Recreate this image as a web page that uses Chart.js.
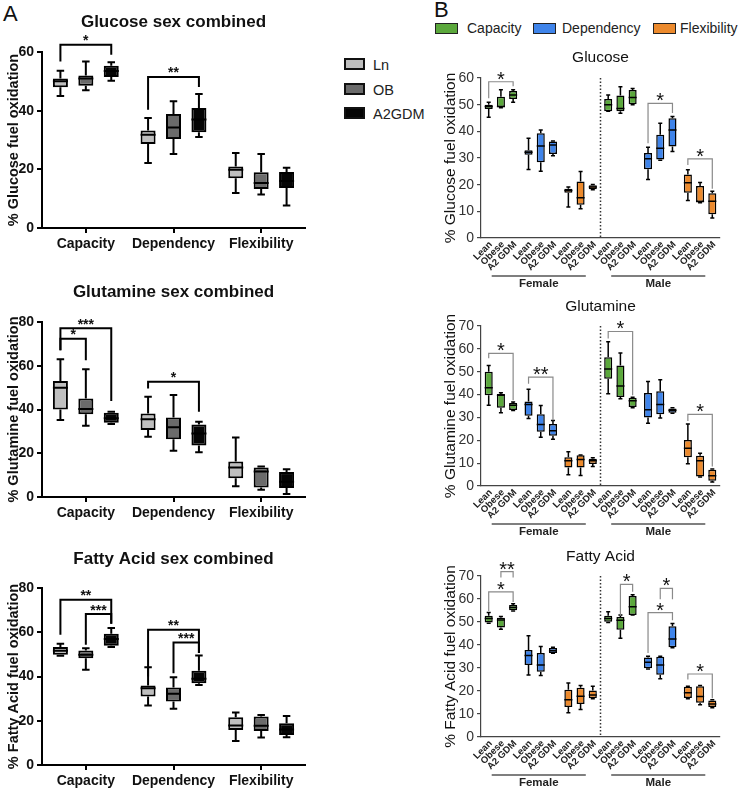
<!DOCTYPE html>
<html lang="en">
<head>
<meta charset="UTF-8">
<title>Fuel oxidation box plots</title>
<script src="https://cdn.jsdelivr.net/npm/chart.js"></script>
<style>
  body {
    margin: 0;
    width: 739px;
    height: 788px;
    overflow: hidden;
    position: relative;
    background: #fff;
    font-family: Arial, "Liberation Sans", sans-serif;
    color: #222;
  }
  canvas { position: absolute; }
  .letter { position: absolute; font-size: 22px; line-height: 26px; color: #111; }
  .sw { position: absolute; box-sizing: border-box; }
  .lab { position: absolute; white-space: nowrap; }
  .swA { width: 21px; height: 12px; border: 2px solid #111; }
  .labA { font-size: 14.5px; line-height: 18px; }
  .swB { width: 23px; height: 11px; border: 1.5px solid #222; }
  .labB { font-size: 14px; line-height: 18px; }
</style>
</head>
<body>
<div class="letter" style="left:3px; top:1px;">A</div>
<div class="letter" style="left:434px; top:-3px;">B</div>

<!-- legend A -->
<div class="sw swA" style="left:344px; top:58px; background:#bfbfbf;"></div>
<div class="sw swA" style="left:344px; top:83px; background:#6b6b6b;"></div>
<div class="sw swA" style="left:344px; top:107px; background:#050505;"></div>
<div class="lab labA" style="left:373px; top:56px;">Ln</div>
<div class="lab labA" style="left:373px; top:81px;">OB</div>
<div class="lab labA" style="left:373px; top:105px;">A2GDM</div>

<!-- legend B -->
<div class="sw swB" style="left:435px; top:23px; background:#5ba83c;"></div>
<div class="sw swB" style="left:533px; top:23px; background:#3f84ea;"></div>
<div class="sw swB" style="left:653px; top:23px; background:#ec8a2d;"></div>
<div class="lab labB" style="left:467px; top:19px;">Capacity</div>
<div class="lab labB" style="left:562px; top:19px;">Dependency</div>
<div class="lab labB" style="left:680px; top:19px;">Flexibility</div>

<canvas id="aGlu" width="310" height="255" style="left:0; top:0;"></canvas>
<canvas id="aGln" width="310" height="262" style="left:0; top:262px;"></canvas>
<canvas id="aFa" width="310" height="266" style="left:0; top:522px;"></canvas>
<canvas id="bGlu" width="302" height="255" style="left:420px; top:40px;"></canvas>
<canvas id="bGln" width="302" height="245" style="left:420px; top:295px;"></canvas>
<canvas id="bFa" width="302" height="243" style="left:420px; top:545px;"></canvas>

<script>
// every box is [min, q1, median, q3, max]
const aGroups = ['Capacity', 'Dependency', 'Flexibility'];
const aCohorts = ['Ln', 'OB', 'A2GDM'];

const aGluLn = [[45, 48, 50, 51, 53.6], [22.2, 28.6, 31.8, 33.2, 37.5], [11.9, 17, 19.9, 21, 25.6]];
const aGluOB = [[47, 48.5, 51, 52, 56.8], [25.2, 30.3, 34.3, 38.9, 43.2], [11.4, 13.3, 15.3, 19, 25.2]];
const aGluA2 = [[50.2, 51.5, 53.5, 55.3, 56.5], [31, 32.6, 37, 40.9, 45.7], [7.7, 13.6, 16, 19.1, 20.5]];

const aGlnLn = [[35.2, 40, 50, 53, 63], [27.6, 30.6, 35.5, 38.2, 45.8], [4.9, 8.6, 13.5, 16.2, 27.2]];
const aGlnOB = [[32.6, 37.8, 40.2, 45, 58.4], [21.2, 26.4, 31.9, 36.3, 46.6], [3.3, 4.4, 11.7, 13.5, 14]];
const aGlnA2 = [[33.4, 34, 36, 38.5, 39], [20.5, 23.5, 29, 33.2, 34.4], [1.4, 4.1, 7, 11.4, 12.7]];

const aFaLn = [[49.4, 49.8, 51.6, 53.3, 54.8], [26.9, 31, 34.7, 35.9, 44.2], [10.9, 15.8, 17.8, 21.6, 23.7]];
const aFaOB = [[43, 48.3, 49.8, 51.8, 52.8], [25.4, 28.7, 32.2, 35, 39.7], [12.4, 15.4, 17.7, 21.9, 22.6]];
const aFaA2 = [[53.3, 53.9, 57, 59.3, 61.9], [36.2, 37, 39, 42.6, 49.5], [12.5, 13.6, 16, 18.9, 22.2]];

// significance: [group, from cohort, to cohort, bracket, left leg end, right leg end, label]
const aGluSig = [[0, 0, 2, 62.5, 56.8, 59.1, '*'], [1, 0, 2, 51.5, 40.3, 48.1, '**']];
const aGlnSig = [[0, 0, 2, 77.2, 67.1, 43.9, '***'], [0, 0, 1, 72.4, 67.1, 62.5, '*'], [1, 0, 2, 52.7, 49.6, 39, '*']];
const aFaSig = [[0, 0, 2, 74.7, 58.9, 63.8, '**'], [0, 1, 2, 68.2, 54.3, 63.8, '***'],
                [1, 0, 2, 61.1, 40, 50.6, '**'], [1, 1, 2, 55.4, 41.5, 50.6, '***']];

const bGroups = ['Capacity', 'Dependency', 'Flexibility', 'Capacity', 'Dependency', 'Flexibility'];
const bCohorts = ['Lean', 'Obese', 'A2 GDM'];
const bSexes = ['Female', 'Male'];

const bGluLean = [[45.3, 48.4, 49.3, 50, 50.9], [25.7, 31.2, 32.2, 32.9, 37.4], [11.6, 17, 17.8, 18.5, 19.1],
                  [47.5, 47.5, 50, 52.1, 53.6], [21.9, 25.8, 29.7, 31.9, 34], [14.1, 17, 20.7, 23.8, 25.6]];
const bGluObese = [[48.8, 49, 49.3, 53, 55.6], [25, 28.4, 34.5, 39.3, 40.5], [11, 12.5, 15.1, 21.2, 24.9],
                   [46.8, 47.5, 48.6, 53.4, 56.7], [29.2, 29.4, 33.7, 38.7, 43], [13.2, 13.5, 13.7, 19.5, 20.8]];
const bGluA2 = [[50.9, 52.1, 53.6, 55.1, 55.6], [30.8, 31.5, 34.9, 36.2, 36.4], [18.1, 18.3, 19.1, 19.8, 20.1],
                [50, 50.2, 52.7, 55.5, 56.1], [32.4, 34.3, 40.5, 44.9, 45.6], [7.5, 8.9, 13.8, 16.8, 17.5]];

const bGlnLean = [[35.3, 39.7, 43, 50, 52.7], [29.5, 30.7, 35.7, 37, 42.3], [4.9, 8.1, 11, 12.6, 15],
                  [40.4, 46.9, 51.2, 56.3, 63.1], [27.4, 30, 33.4, 40.7, 45.7], [9.7, 12.6, 16.5, 20.1, 27.1]];
const bGlnObese = [[32.1, 34.2, 39.7, 40.2, 40.8], [21.3, 23.7, 26.9, 31.4, 35.2], [4.6, 8.1, 11.6, 13.5, 13.6],
                   [38.2, 38.9, 43.7, 52.7, 58.2], [29.8, 31.4, 35.7, 41.4, 46.5], [3.9, 4.2, 11.1, 13.2, 14.3]];
const bGlnA2 = [[33, 33.3, 35.3, 36.3, 36.8], [20.5, 22, 24.2, 27.1, 28.7], [8.5, 9.6, 11, 11.9, 12.4],
                [34.2, 34.6, 37.3, 38.6, 38.8], [31.8, 32.1, 33.1, 33.9, 34.2], [1.7, 2.3, 4.5, 7.1, 7.4]];

const bFaLean = [[49.5, 49.8, 51.5, 52.7, 54.1], [27, 31.3, 35.4, 37.8, 44], [10.5, 13, 16.2, 20.5, 23.5],
                 [49.8, 50.1, 51.5, 52.7, 54.5], [29.6, 29.9, 32.5, 34.6, 35.1], [16.6, 17, 19.2, 21.9, 22.1]];
const bFaObese = [[46.9, 47.6, 50.9, 51.9, 52.4], [26.7, 28.4, 31.3, 36.5, 39.4], [12, 14.4, 17.7, 21.4, 22.4],
                  [42.9, 46.6, 50.8, 52.2, 53], [25.3, 27.1, 31.3, 34.9, 35.1], [14, 14.9, 17.6, 22.1, 22.4]];
const bFaA2 = [[54.8, 55.1, 56.3, 57.4, 57.9], [36.4, 36.5, 37.5, 38.7, 39], [16.6, 16.9, 18.3, 20.2, 22.1],
               [53, 53, 56.6, 61.3, 61.8], [38.8, 39, 42.6, 48.1, 49.4], [12.7, 13, 14.4, 15.9, 16.2]];

const bGluSig = [[0, 0, 2, 58.6, 52.4, 56.9, '*'], [4, 0, 2, 50.5, 35.5, 46.9, '*'], [5, 0, 2, 29.7, 27.4, 18.5, '*']];
const bGlnSig = [[0, 0, 2, 58, 55.9, 37.5, '*'], [1, 0, 2, 47.6, 44.7, 28.8, '**'],
                 [3, 0, 2, 67.6, 64.5, 39.7, '*'], [5, 0, 2, 31.3, 28.4, 8.5, '*']];
const bFaSig = [[0, 0, 2, 63.1, 54.8, 58.7, '*'], [0, 1, 2, 71.9, 69.3, 69.3, '**'], [3, 1, 2, 66.4, 52.7, 63.1, '*'],
                [4, 0, 2, 54.1, 36.5, 50.8, '*'], [4, 1, 2, 64.6, 59.9, 59.9, '*'], [5, 0, 2, 27.4, 25, 16.9, '*']];

const aColors = ['#bfbfbf', '#6b6b6b', '#050505'];
const bColors = ['#5ba83c', '#3f84ea', '#ec8a2d', '#5ba83c', '#3f84ea', '#ec8a2d'];

Chart.defaults.font.family = 'Arial, "Liberation Sans", sans-serif';
Chart.defaults.color = '#222';

function boxChart(id, cfg) {
  const extras = {
    id: 'extras',
    beforeDatasetsDraw(chart) {
      if (!cfg.divider) return;
      const ctx = chart.ctx, xs = chart.scales.x, area = chart.chartArea;
      const x = (xs.getPixelForValue(2) + xs.getPixelForValue(3)) / 2;
      ctx.save();
      ctx.strokeStyle = '#333';
      ctx.lineWidth = 1.5;
      ctx.setLineDash([1.5, 2]);
      ctx.beginPath();
      ctx.moveTo(x, area.top);
      ctx.lineTo(x, area.bottom);
      ctx.stroke();
      ctx.restore();
    },
    afterDatasetsDraw(chart) {
      const ctx = chart.ctx, ys = chart.scales.y;
      const py = v => ys.getPixelForValue(v);
      ctx.save();
      // whiskers and medians
      cfg.series.forEach((stats, d) => {
        chart.getDatasetMeta(d).data.forEach((bar, i) => {
          const s = stats[i];
          const half = bar.width / 2, cap = half * cfg.capRatio;
          ctx.strokeStyle = '#000';
          ctx.lineWidth = cfg.lineWidth;
          ctx.beginPath();
          ctx.moveTo(bar.x, py(s[3])); ctx.lineTo(bar.x, py(s[4]));
          ctx.moveTo(bar.x - cap, py(s[4])); ctx.lineTo(bar.x + cap, py(s[4]));
          ctx.moveTo(bar.x, py(s[1])); ctx.lineTo(bar.x, py(s[0]));
          ctx.moveTo(bar.x - cap, py(s[0])); ctx.lineTo(bar.x + cap, py(s[0]));
          ctx.moveTo(bar.x - half, py(s[2])); ctx.lineTo(bar.x + half, py(s[2]));
          ctx.stroke();
        });
      });
      // significance brackets
      ctx.strokeStyle = cfg.sigColor;
      ctx.lineWidth = cfg.sigWidth;
      ctx.fillStyle = '#111';
      ctx.font = cfg.sigFont;
      ctx.textAlign = 'center';
      ctx.textBaseline = 'alphabetic';
      cfg.sig.forEach(([g, a, b, top, la, lb, txt]) => {
        const xa = chart.getDatasetMeta(a).data[g].x;
        const xb = chart.getDatasetMeta(b).data[g].x;
        const yt = py(top);
        ctx.beginPath();
        ctx.moveTo(xa, py(la));
        ctx.lineTo(xa, yt);
        ctx.lineTo(xb, yt);
        ctx.lineTo(xb, py(lb));
        ctx.stroke();
        const m = ctx.measureText(txt);
        const mid = (m.actualBoundingBoxAscent - m.actualBoundingBoxDescent) / 2;
        ctx.fillText(txt, (xa + xb) / 2, yt - cfg.sigGap + mid);
      });
      ctx.restore();
    },
    afterDraw(chart) {
      const ctx = chart.ctx, area = chart.chartArea;
      ctx.save();
      // panel title
      ctx.font = cfg.titleFont;
      ctx.fillStyle = '#111';
      ctx.textAlign = 'center';
      ctx.textBaseline = 'middle';
      ctx.fillText(cfg.title, (area.left + area.right) / 2, cfg.titleY);
      // rotated cohort labels and sex groups (panel B)
      if (cfg.cohortLabels) {
        const base = area.bottom;
        ctx.font = 'bold 9.5px Arial, "Liberation Sans", sans-serif';
        ctx.fillStyle = '#222';
        ctx.textAlign = 'right';
        cfg.cohortLabels.forEach((lab, d) => {
          chart.getDatasetMeta(d).data.forEach(bar => {
            ctx.save();
            ctx.translate(bar.x + 2, base + 5);
            ctx.rotate(-Math.PI / 4);
            ctx.fillText(lab, 0, 0);
            ctx.restore();
          });
        });
        ctx.strokeStyle = '#555';
        ctx.lineWidth = 1.5;
        ctx.font = 'bold 11.5px Arial, "Liberation Sans", sans-serif';
        ctx.textAlign = 'center';
        cfg.sexes.forEach((sx, k) => {
          const x0 = chart.getDatasetMeta(0).data[k * 3].x + 3;
          const x1 = chart.getDatasetMeta(2).data[k * 3 + 2].x - 7;
          ctx.beginPath();
          ctx.moveTo(x0, base + 38);
          ctx.lineTo(x1, base + 38);
          ctx.stroke();
          ctx.fillText(sx, (x0 + x1) / 2, base + 46);
        });
      }
      ctx.restore();
    }
  };

  const datasets = cfg.series.map((stats, d) => ({
    label: cfg.cohorts[d],
    data: stats.map(s => [s[1], s[3]]),
    backgroundColor: cfg.colorsByCohort ? cfg.colors[d] : cfg.colors,
    borderColor: '#000',
    borderWidth: cfg.boxBorder,
    borderSkipped: false,
    categoryPercentage: cfg.catPct,
    barPercentage: cfg.barPct
  }));

  return new Chart(document.getElementById(id), {
    type: 'bar',
    data: { labels: cfg.groups, datasets },
    plugins: [extras],
    options: {
      responsive: false,
      animation: false,
      devicePixelRatio: 1,
      layout: { padding: { top: cfg.padTop, left: 0, right: cfg.padRight, bottom: 0 } },
      plugins: { legend: { display: false }, tooltip: { enabled: false } },
      scales: {
        x: {
          afterFit: s => { s.height = cfg.xHeight; },
          grid: { display: cfg.xTicks, drawOnChartArea: false, offset: false, tickLength: 5, color: '#000', lineWidth: cfg.axisWidth },
          border: { display: true, color: cfg.axisColor, width: cfg.axisWidth },
          ticks: {
            display: cfg.xTicks, font: { size: 14, weight: 'bold' }, color: '#111', padding: 3,
            maxRotation: 0, minRotation: 0, autoSkip: false
          }
        },
        y: {
          min: 0,
          max: cfg.yMax,
          afterFit: s => { s.width = cfg.yWidth; },
          grid: { drawOnChartArea: false, tickLength: cfg.tickLen, color: cfg.axisColor, lineWidth: cfg.axisWidth },
          border: { display: true, color: cfg.axisColor, width: cfg.axisWidth },
          ticks: { stepSize: cfg.yStep, font: cfg.yTickFont, color: cfg.yTickColor, padding: 3 },
          title: { display: true, text: cfg.yTitle, font: cfg.yTitleFont, color: '#111', padding: { top: cfg.yTitlePad, bottom: 0 } }
        }
      }
    }
  });
}

const aBase = {
  groups: aGroups, cohorts: aCohorts, colors: aColors, colorsByCohort: true,
  boxBorder: 2, catPct: 0.87, barPct: 0.59, lineWidth: 2, capRatio: 0.5,
  sigColor: '#000', sigWidth: 2, sigFont: 'bold 14px Arial, "Liberation Sans", sans-serif', sigGap: 6.5,
  titleFont: 'bold 17px Arial, "Liberation Sans", sans-serif',
  padRight: 5, yWidth: 42, xTicks: true, tickLen: 5, axisColor: '#000', axisWidth: 2,
  yStep: 20, yTickFont: { size: 14, weight: 'bold' }, yTickColor: '#111',
  yTitleFont: { size: 14.5, weight: 'bold' }, yTitlePad: 5.5
};

boxChart('aGlu', Object.assign({}, aBase, {
  series: [aGluLn, aGluOB, aGluA2], sig: aGluSig, title: 'Glucose sex combined', titleY: 22,
  padTop: 52, xHeight: 27, yMax: 60, yTitle: '% Glucose fuel oxidation'
}));
boxChart('aGln', Object.assign({}, aBase, {
  series: [aGlnLn, aGlnOB, aGlnA2], sig: aGlnSig, title: 'Glutamine sex combined', titleY: 30,
  padTop: 60, xHeight: 27, yMax: 80, yTitle: '% Glutamine fuel oxidation'
}));
boxChart('aFa', Object.assign({}, aBase, {
  series: [aFaLn, aFaOB, aFaA2], sig: aFaSig, title: 'Fatty Acid sex combined', titleY: 37,
  padTop: 66, xHeight: 23, yMax: 80, yTitle: '% Fatty Acid fuel oxidation'
}));

const bBase = {
  groups: bGroups, cohorts: bCohorts, cohortLabels: bCohorts, sexes: bSexes, colors: bColors, colorsByCohort: false,
  boxBorder: 1.5, catPct: 0.92, barPct: 0.66, lineWidth: 1.5, capRatio: 0.5, divider: true,
  sigColor: '#8a8a8a', sigWidth: 1.2, sigFont: '20px Arial, "Liberation Sans", sans-serif', sigGap: 6,
  titleFont: '15.5px Arial, "Liberation Sans", sans-serif',
  padRight: 2, yWidth: 61, xTicks: false, tickLen: 4, axisColor: '#444', axisWidth: 1.2,
  yStep: 10, yTickFont: { size: 14 }, yTickColor: '#333',
  yTitleFont: { size: 15.5 }, yTitlePad: 21
};

boxChart('bGlu', Object.assign({}, bBase, {
  series: [bGluLean, bGluObese, bGluA2], sig: bGluSig, title: 'Glucose', titleY: 18,
  padTop: 38, xHeight: 57, yMax: 60, yTitle: '% Glucose fuel oxidation'
}));
boxChart('bGln', Object.assign({}, bBase, {
  series: [bGlnLean, bGlnObese, bGlnA2], sig: bGlnSig, title: 'Glutamine', titleY: 12,
  padTop: 31, xHeight: 54, yMax: 70, yTitle: '% Glutamine fuel oxidation'
}));
boxChart('bFa', Object.assign({}, bBase, {
  series: [bFaLean, bFaObese, bFaA2], sig: bFaSig, title: 'Fatty Acid', titleY: 12,
  padTop: 31, xHeight: 51, yMax: 70, yTitle: '% Fatty Acid fuel oxidation'
}));
</script>
</body>
</html>
